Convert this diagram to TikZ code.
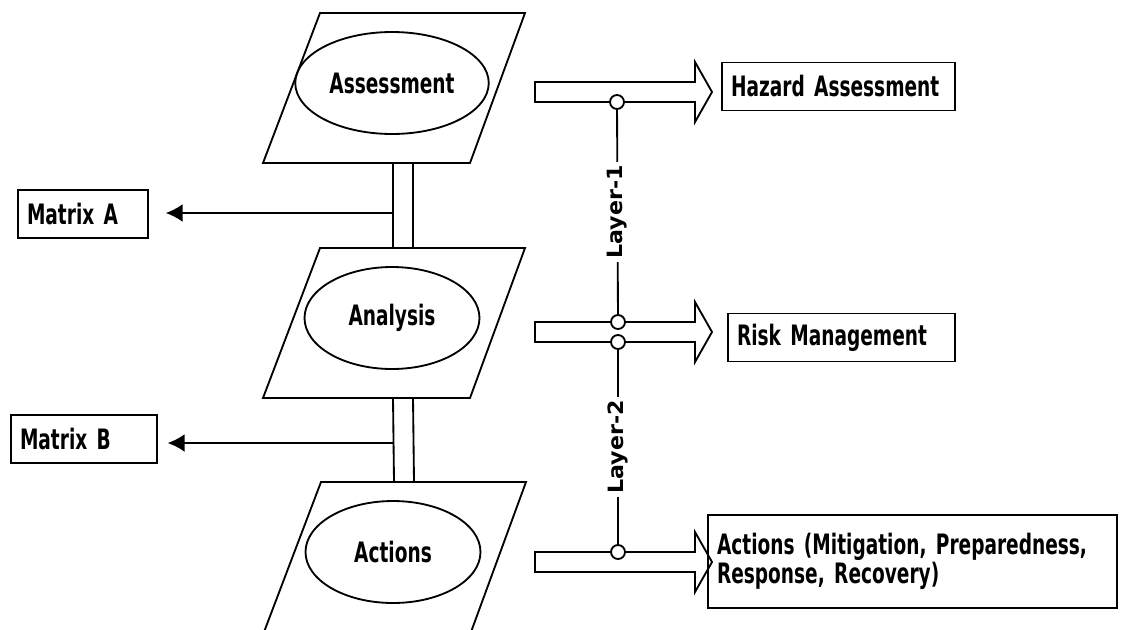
\documentclass[tikz,border=0pt]{standalone}
\usepackage{fontspec}
\setmainfont{DejaVu Sans}[FakeStretch=0.66]
\newfontfamily\layerfont{DejaVu Sans}[FakeStretch=1.05]
\usetikzlibrary{arrows.meta,calc,shapes.geometric}

\begin{document}
\begin{tikzpicture}[x=0.02cm,y=-0.02cm,line width=1.05pt,
    every node/.style={font=\fontsize{16}{15.5}\selectfont\bfseries},
    blocco/.style={ellipse,draw,minimum width=3.5cm,minimum height=2.04cm},
    casella/.style={draw,line width=0.85pt,inner xsep=0.18cm,align=left,minimum height=0.96cm},
    cerchio/.style={circle,draw,fill=white,inner sep=0pt,minimum size=0.28cm},
    livello/.style={rotate=90,fill=white,inner sep=0.06cm,font=\layerfont\fontsize{12}{12}\selectfont\bfseries},
    freccia/.style={-{Latex[length=0.34cm,width=0.36cm]}}]
   \useasboundingbox (0,0) rectangle (1121,629);
   \clip (0,0) rectangle (1121,629);
   %blocchi
   \node[blocco] (assess) at (392,83) {Assessment};
   \node[blocco] (analysis) at (392,318) {Analysis};
   \node[blocco] (actions) at (393,552) {Actions};
   \foreach \b in {assess,analysis,actions}
      \draw ($(\b)+(-72,-70)$) -- ($(\b)+(133,-70)$) -- ($(\b)+(78,80)$) -- ($(\b)+(-129,80)$) -- cycle;
   %colonne
   \foreach \a/\b in {assess/analysis,analysis/actions}{
      \draw ($(\a)+(1,80)$) -- ($(\b)+(1,-70)$);
      \draw ($(\a)+(21,80)$) -- ($(\b)+(21,-70)$);
   }
   %matrici
   \node[casella,text width=2.24cm] (matA) at (83,214) {Matrix A};
   \node[casella,text width=2.56cm] (matB) at (84,439) {Matrix B};
   \coordinate (jA) at (393,213);
   \coordinate (jB) at (393,443);
   \draw[freccia,shorten >=0.34cm] (jA) -- (matA.east |- jA);
   \draw[freccia,shorten >=0.2cm] (jB) -- (matB.east |- jB);
   %frecce
   \foreach \y in {92,332,562}
      \draw (535,\y-10) -- (695,\y-10) -- (695,\y-30) -- (712,\y) -- (695,\y+30) -- (695,\y+10) -- (535,\y+10) -- cycle;
   %livelli
   \node[cerchio] (c1) at (617,102) {};
   \node[cerchio] (c2) at (618,322) {};
   \node[cerchio] (c3) at (618,342) {};
   \node[cerchio] (c4) at (618,552) {};
   \draw (c1) -- node[livello] {Layer-1} (c2);
   \draw (c3) -- node[livello] {Layer-2} (c4);
   %uscite
   \node[casella,text width=4.3cm] (hazard) at (838.5,86.5) {Hazard Assessment};
   \node[casella,text width=4.18cm] (risk) at (841.5,337.5) {Risk Management};
   \node[casella,text width=7.82cm,minimum height=1.86cm] (measures) at (912.5,561.5)
      {Actions (Mitigation, Preparedness,\\ Response, Recovery)};
\end{tikzpicture}
\end{document}
